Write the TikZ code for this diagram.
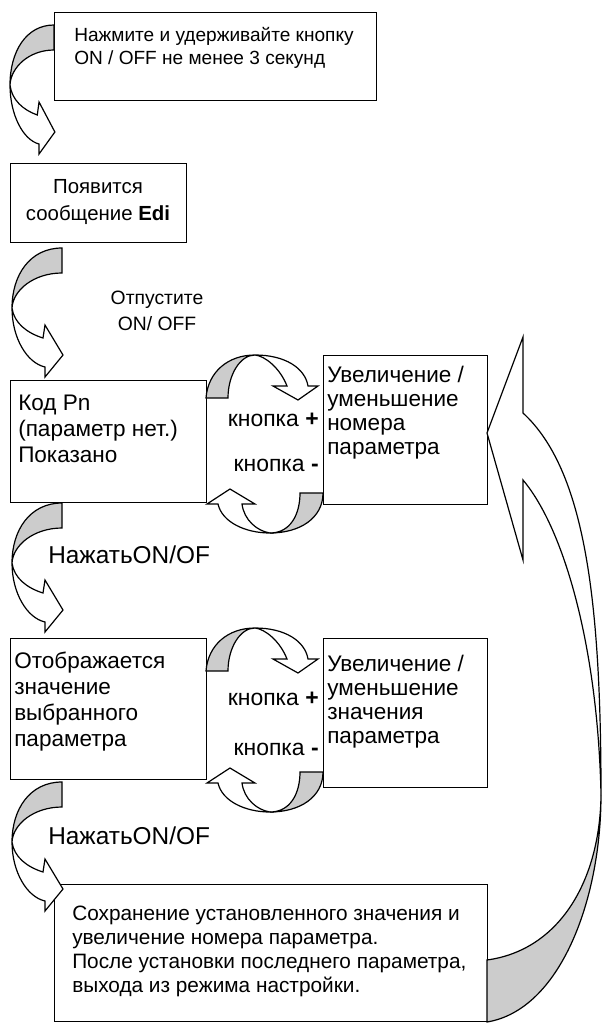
\documentclass[tikz,border=0pt]{standalone}
\usepackage{fontspec}
\setmainfont{Liberation Sans}
\definecolor{backgray}{RGB}{204,204,204}
\newcommand{\boxnode}[5]{\node[box, minimum width={(#4-#2)*0.75pt}, minimum height={(#5-#3)*0.75pt}] (#1) at (#2,#3) {};}
\newcommand{\leftarr}[3]{%
\begin{scope}[shift={(#1,#2)}, xscale=#3]
 \path[back] (0,0) .. controls (-32,0) and (-50,27) .. (-50,60) .. controls (-49,42) and (-28,25) .. (0,25) -- cycle;
 \path[front] (-50,60) .. controls (-50,90) and (-35,115) .. (-17,119) -- (-17,129) -- (1,107) -- (-17,77) -- (-19,90) .. controls (-35,85) and (-48,75) .. (-50,60) -- cycle;
\end{scope}}
\newcommand{\uparr}[1]{%
\begin{scope}[shift={(0,#1)}]
 \path[back] (206,398) .. controls (208,372) and (228,355) .. (255,355) .. controls (240,355) and (228,375) .. (228,398) -- cycle;
 \path[front] (255,355) .. controls (285,355) and (305,368) .. (308,386) -- (318,386) -- (298,400) -- (273,386) -- (287,386) .. controls (280,368) and (265,356) .. (255,355) -- cycle;
\end{scope}}
\newcommand{\lowarr}[1]{%
\begin{scope}[shift={(0,#1)}]
 \path[back] (270,533) .. controls (290,533) and (300,515) .. (300,493) -- (323,493) .. controls (323,518) and (300,533) .. (270,533) -- cycle;
 \path[front] (218,504) .. controls (222,522) and (245,533) .. (270,533) .. controls (257,531) and (244,520) .. (242,504) -- (255,504) -- (230,489) -- (207,504) -- cycle;
\end{scope}}
\begin{document}
\begin{tikzpicture}[x=0.75pt,y=-0.75pt,
  box/.style={draw, line width=0.9pt, fill=white, inner sep=0pt, anchor=north west},
  txt/.style={anchor=north west, inner sep=0pt, align=left, font=\fontsize{16.9pt}{19.5pt}\selectfont},
  rtxt/.style={anchor=north west, inner sep=0pt, align=left, font=\fontsize{16.9pt}{18pt}\selectfont},
  smalltxt/.style={anchor=north west, inner sep=0pt, align=left, font=\fontsize{15.6pt}{18pt}\selectfont},
  lbl/.style={inner sep=0pt, font=\fontsize{17.2pt}{19.5pt}\selectfont},
  back/.style={draw, line width=0.9pt, fill=backgray, line join=miter},
  front/.style={draw, line width=0.9pt, fill=white, line join=miter}]
\useasboundingbox (0,0) rectangle (602,1024);
\fill[white] (0,0) rectangle (602,1024);

% boxes
\boxnode{b1}{54}{12}{376}{100}
\boxnode{b2}{10}{163}{186}{242}
\boxnode{b3}{10}{380}{206}{502}
\boxnode{b4}{323}{355}{487}{504}
\boxnode{b5}{10}{638}{206}{779}
\boxnode{b6}{323}{638}{487}{787}
\boxnode{b7}{54}{884}{487}{1021}

% texts
\node[smalltxt, font=\fontsize{14.3pt}{17.5pt}\selectfont] (t1) at (74,27) {Нажмите и удерживайте кнопку\\ON / OFF не менее 3 секунд};
\node[txt, align=center, anchor=center, font=\fontsize{15.3pt}{20pt}\selectfont] (t2) at (98,202) {Появится\\сообщение \textbf{Edi}};
\node[txt] (t3) at (18,395) {Код Pn\\(параметр нет.)\\Показано};
\node[rtxt] (t4) at (327,366) {Увеличение /\\уменьшение\\номера\\параметра};
\node[txt] (t5) at (14,652) {Отображается\\значение\\выбранного\\параметра};
\node[rtxt] (t6) at (327,655) {Увеличение /\\уменьшение\\значения\\параметра};
\node[smalltxt] (t7) at (72,906) {Сохранение установленного значения и\\увеличение номера параметра.\\После установки последнего параметра,\\выхода из режима настройки.};

% labels
\node[lbl, align=center, font=\fontsize{14.5pt}{19pt}\selectfont] (l1) at (157,311) {Отпустите\\ON/ OFF};
\node[lbl, anchor=west, font=\fontsize{18.3pt}{20pt}\selectfont] (l2) at (48,555) {НажатьON/OF};
\node[lbl, anchor=west, font=\fontsize{18.3pt}{20pt}\selectfont] (l3) at (48,836) {НажатьON/OF};
\node[lbl, anchor=east] (k1) at (319,420) {кнопка \textbf{+}};
\node[lbl, anchor=east] (k2) at (319,465) {кнопка \textbf{-}};
\node[lbl, anchor=east] (k3) at (319,699) {кнопка \textbf{+}};
\node[lbl, anchor=east] (k4) at (319,749) {кнопка \textbf{-}};

% left curved arrows
\leftarr{54}{25}{0.88}
\leftarr{62}{248}{1}
\leftarr{62}{503}{1}
\leftarr{62}{782}{1}

% middle curved arrows
\uparr{0}
\lowarr{0}
\uparr{273}
\lowarr{279}

% big return arrow
\path[back] (601,795) .. controls (600,880) and (560,950) .. (487,960) -- (487,1022) .. controls (560,1010) and (601,900) .. (601,795) -- cycle;
\path[front] (523,413) .. controls (585,470) and (601,600) .. (601,795) .. controls (598,650) and (565,530) .. (523,480) -- (523,560) -- (487,433) -- (523,337) -- cycle;
\end{tikzpicture}
\end{document}
